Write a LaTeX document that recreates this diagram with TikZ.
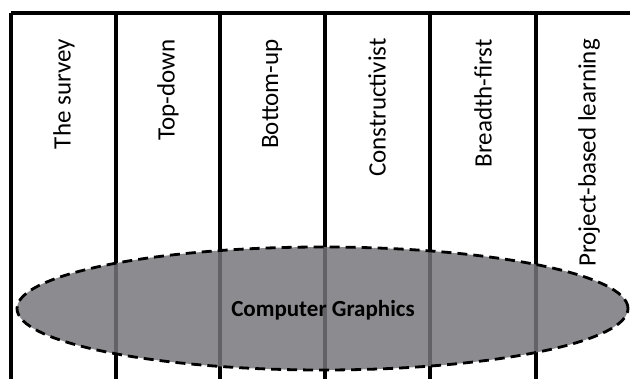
\documentclass[tikz,border=0pt]{standalone}
\usepackage{fontspec}
\setmainfont{Carlito}
\usetikzlibrary{shapes.geometric}
\begin{document}
\begin{tikzpicture}[x=1pt,y=-1pt,
  colline/.style={line width=3.2pt,black},
  collabel/.style={rotate=90,anchor=east,font=\fontsize{25}{29}\selectfont,inner sep=0pt},
  topic/.style={ellipse,draw=black,line width=2.8pt,dash pattern=on 10pt off 6pt,
     fill={rgb,255:red,118;green,117;blue,123},fill opacity=0.84,minimum width=611pt,minimum height=123pt,inner sep=0pt}]
\useasboundingbox (0,0) rectangle (630,379);
\begin{scope}
\clip (0,0) rectangle (630,379);
\draw[colline] (11,13) -- (645,13);
\foreach \x in {11,116,220,325,430,536} \draw[colline] (\x,13) -- (\x,385);
\node[collabel] (l1) at (64,39) {The survey};
\node[collabel] (l2) at (168,39) {Top-down};
\node[collabel] (l3) at (272,39) {Bottom-up};
\node[collabel] (l4) at (377,38) {Constructivist};
\node[collabel] (l5) at (483,39) {Breadth-first};
\node[collabel] (l6) at (589,39) {Project-based learning};
\node[topic] (cg) at (322.5,308.5) {};
\node[font=\bfseries\fontsize{23}{27}\selectfont,text=black] (cgt) at (323,310) {Computer Graphics};
\end{scope}
\end{tikzpicture}
\end{document}
